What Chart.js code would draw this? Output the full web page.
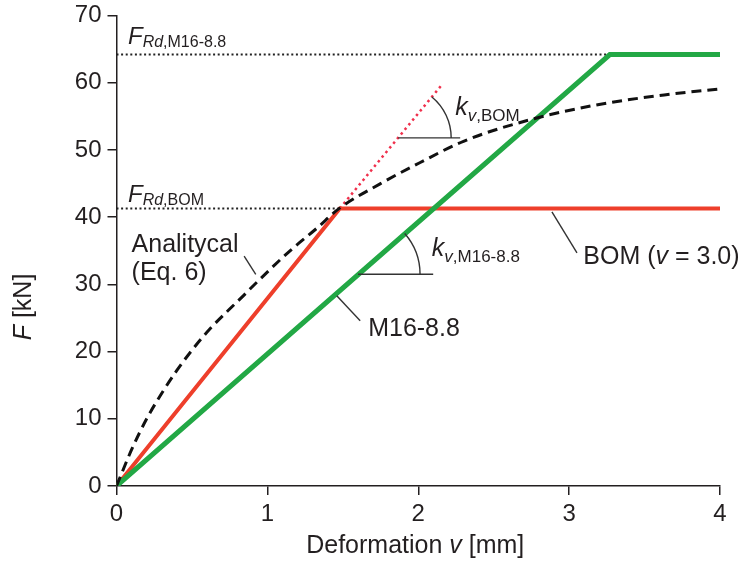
<!DOCTYPE html>
<html>
<head>
<meta charset="utf-8">
<script src="https://cdn.jsdelivr.net/npm/chart.js@4"></script>
<style>
html,body{margin:0;padding:0;background:#fff;}
canvas{display:block;}
</style>
</head>
<body>
<canvas id="c" width="742" height="562"></canvas>
<script>
// ---- data ----
const xTicks = [0, 1, 2, 3, 4];
const yTicks = [0, 10, 20, 30, 40, 50, 60, 70];

const bomV = [0, 1.48, 4.0];
const bomF = [0, 41.3, 41.3];

const m16V = [0, 3.27, 4.0];
const m16F = [0, 64.2, 64.2];

const anaV = [0, 0.1, 0.2, 0.3, 0.4, 0.5, 0.62, 0.73, 0.84, 0.92, 1.15, 1.33, 1.47, 1.75, 2.01, 2.30, 2.74, 3.18, 3.63, 4.0];
const anaF = [0, 5.4, 10.0, 13.8, 17.2, 20.2, 23.4, 25.9, 28.3, 30.1, 35.0, 38.4, 41.2, 45.0, 48.1, 51.3, 54.5, 56.7, 58.2, 59.1];

const kBomV = [1.48, 2.16];
const kBomF = [41.3, 59.8];

const fRdM16V = [0, 3.27];
const fRdM16F = [64.2, 64.2];

const fRdBomV = [0, 1.48];
const fRdBomF = [41.3, 41.3];

const pts = (xs, ys) => xs.map((x, i) => ({x: x, y: ys[i]}));

const FONT = '"Liberation Sans", Arial, Helvetica, sans-serif';
const INK = '#231f20';

function runs(ctx, parts, x, y, align) {
  let w = 0;
  parts.forEach(p => {
    ctx.font = (p.i ? 'italic ' : '') + p.s + 'px ' + FONT;
    p.w = ctx.measureText(p.t).width;
    w += p.w;
  });
  let cx = align === 'center' ? x - w / 2 : x;
  parts.forEach(p => {
    ctx.font = (p.i ? 'italic ' : '') + p.s + 'px ' + FONT;
    ctx.fillText(p.t, cx, y + (p.dy || 0));
    cx += p.w;
  });
}

const annot = {
  id: 'annot',
  afterDatasetsDraw(chart) {
    const ctx = chart.ctx;
    const xs = chart.scales.x, ys = chart.scales.y;
    const X = v => xs.getPixelForValue(v);
    const Y = f => ys.getPixelForValue(f);
    ctx.save();
    ctx.fillStyle = INK;
    ctx.textBaseline = 'alphabetic';
    ctx.textAlign = 'left';

    // F_Rd labels
    runs(ctx, [{t: 'F', i: true, s: 24}, {t: 'Rd', i: true, s: 16, dy: 3}, {t: ',M16-8.8', s: 16, dy: 3}], X(0.076), Y(65.7));
    runs(ctx, [{t: 'F', i: true, s: 24}, {t: 'Rd', i: true, s: 16, dy: 3}, {t: ',BOM', s: 16, dy: 3}], X(0.076), Y(42.3));

    // series labels
    runs(ctx, [{t: 'Analitycal', s: 25}], X(0.10), Y(34.8));
    runs(ctx, [{t: '(Eq. 6)', s: 25}], X(0.10), Y(30.7));
    runs(ctx, [{t: 'BOM (', s: 25}, {t: 'v', i: true, s: 25}, {t: ' = 3.0)', s: 25}], X(3.094), Y(33.1));
    runs(ctx, [{t: 'M16-8.8', s: 25}], X(1.668), Y(22.3));

    // stiffness labels
    runs(ctx, [{t: 'k', i: true, s: 25}, {t: 'v', i: true, s: 17, dy: 6}, {t: ',BOM', s: 17, dy: 6}], X(2.245), Y(55.2));
    runs(ctx, [{t: 'k', i: true, s: 25}, {t: 'v', i: true, s: 17, dy: 6}, {t: ',M16-8.8', s: 17, dy: 6}], X(2.09), Y(34.3));

    // leader lines
    ctx.strokeStyle = '#333';
    ctx.lineWidth = 1.4;
    const seg = (a, b, c, d) => { ctx.beginPath(); ctx.moveTo(X(a), Y(b)); ctx.lineTo(X(c), Y(d)); ctx.stroke(); };
    seg(0.846, 34.2, 0.923, 31.5);
    seg(2.886, 40.8, 3.052, 34.7);
    seg(1.460, 28.3, 1.615, 24.6);

    // stiffness angle marks
    seg(1.867, 51.8, 2.278, 51.8);
    seg(1.601, 31.5, 2.099, 31.5);
    const arcAt = (v, f, lv0, lf0, lv1, lf1, r) => {
      const ang = Math.atan2(Y(lf1) - Y(lf0), X(lv1) - X(lv0));
      ctx.beginPath();
      ctx.arc(X(v), Y(f), r, ang, 0);
      ctx.stroke();
    };
    arcAt(1.867, 51.8, kBomV[0], kBomF[0], kBomV[1], kBomF[1], 53);
    arcAt(1.601, 31.5, m16V[0], m16F[0], m16V[1], m16F[1], 62);

    // axis titles
    ctx.textAlign = 'left';
    runs(ctx, [{t: 'Deformation ', s: 25}, {t: 'v', i: true, s: 25}, {t: ' [mm]', s: 25}], (chart.chartArea.left + chart.chartArea.right) / 2 - 3, 553, 'center');
    ctx.translate(31, 307);
    ctx.rotate(-Math.PI / 2);
    runs(ctx, [{t: 'F', i: true, s: 25}, {t: ' [kN]', s: 25}], 0, 0, 'center');
    ctx.restore();
  }
};

const RED = '#ee3f2b';
const GREEN = '#22a845';

new Chart(document.getElementById('c'), {
  type: 'scatter',
  data: {
    datasets: [
      {data: pts(anaV, anaF), showLine: true, borderColor: '#111', borderWidth: 3, borderDash: [10, 6], cubicInterpolationMode: 'monotone', pointRadius: 0, order: 0},
      {data: pts(m16V, m16F), showLine: true, borderColor: GREEN, borderWidth: 5, pointRadius: 0, order: 1},
      {data: pts(bomV, bomF), showLine: true, borderColor: RED, borderWidth: 4, pointRadius: 0, order: 2},
      {data: pts(kBomV, kBomF), showLine: true, borderColor: '#f0304c', borderWidth: 2.5, borderDash: [2.5, 3.5], pointRadius: 0, order: 3},
      {data: pts(fRdM16V, fRdM16F), showLine: true, borderColor: '#222', borderWidth: 2, borderDash: [2, 2.6], pointRadius: 0, order: 4},
      {data: pts(fRdBomV, fRdBomF), showLine: true, borderColor: '#222', borderWidth: 2, borderDash: [2, 2.6], pointRadius: 0, order: 5}
    ]
  },
  options: {
    responsive: false,
    animation: false,
    devicePixelRatio: 1,
    layout: {padding: {top: 10, right: 22, bottom: 0, left: 0}},
    plugins: {legend: {display: false}, tooltip: {enabled: false}},
    scales: {
      x: {
        type: 'linear', min: 0, max: 4,
        afterBuildTicks: s => { s.ticks = xTicks.map(v => ({value: v})); },
        afterFit: s => { s.height = 76; },
        ticks: {color: INK, font: {family: FONT, size: 24}, padding: 5, maxRotation: 0},
        grid: {drawOnChartArea: false, drawTicks: true, tickLength: 9, color: INK, lineWidth: 1.5},
        border: {display: true, color: INK, width: 1.5}
      },
      y: {
        type: 'linear', min: 0, max: 70,
        afterBuildTicks: s => { s.ticks = yTicks.map(v => ({value: v})); },
        afterFit: s => { s.width = 116.5; },
        ticks: {color: INK, font: {family: FONT, size: 24, lineHeight: 0.8}, padding: 6},
        grid: {drawOnChartArea: false, drawTicks: true, tickLength: 9, color: INK, lineWidth: 1.5},
        border: {display: true, color: INK, width: 1.5}
      }
    }
  },
  plugins: [annot]
});
</script>
</body>
</html>
